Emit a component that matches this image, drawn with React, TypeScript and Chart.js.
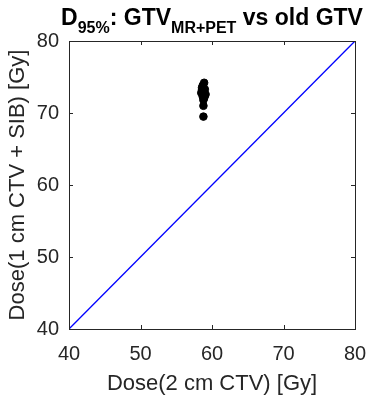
import React, { useEffect, useRef } from "react";
import { Chart, registerables } from "chart.js";

Chart.register(...registerables);

const xValues = [58.6, 58.9, 58.7, 59.0, 58.5, 58.8, 59.1, 58.7, 58.9, 58.8, 58.7, 58.8, 59.0, 58.6, 58.8];
const yValues = [73.5, 74.2, 73.8, 73.3, 72.8, 73.0, 72.6, 72.3, 72.1, 71.8, 72.6, 71.0, 72.4, 73.2, 69.5];
const diagonal = [40, 80];
const tickValues = [40, 50, 60, 70, 80];
const titleParts = [
  { text: "D", sub: false },
  { text: "95%", sub: true },
  { text: ": GTV", sub: false },
  { text: "MR+PET", sub: true },
  { text: " vs old GTV", sub: false },
];
const xTitle = "Dose(2 cm CTV) [Gy]";
const yTitle = "Dose(1 cm CTV + SIB) [Gy]";

const FONT = "Liberation Sans, Arial, Helvetica, sans-serif";
const AXIS_COLOR = "#262626";

const boxPlugin = {
  id: "matlabBox",
  afterDatasetsDraw(chart: any) {
    const { ctx, chartArea: a, scales } = chart;
    ctx.save();
    ctx.strokeStyle = AXIS_COLOR;
    ctx.lineWidth = 1;
    ctx.strokeRect(Math.round(a.left) + 0.5, Math.round(a.top) + 0.5, Math.round(a.right - a.left), Math.round(a.bottom - a.top));
    const tl = 4;
    ctx.beginPath();
    for (const v of tickValues) {
      const px = Math.round(scales.x.getPixelForValue(v)) + 0.5;
      ctx.moveTo(px, a.bottom);
      ctx.lineTo(px, a.bottom - tl);
      ctx.moveTo(px, a.top);
      ctx.lineTo(px, a.top + tl);
      const py = Math.round(scales.y.getPixelForValue(v)) + 0.5;
      ctx.moveTo(a.left, py);
      ctx.lineTo(a.left + tl, py);
      ctx.moveTo(a.right, py);
      ctx.lineTo(a.right - tl, py);
    }
    ctx.stroke();

    // title with subscripts
    const mainFont = `bold 23px ${FONT}`;
    const subFont = `bold 16px ${FONT}`;
    let total = 0;
    for (const p of titleParts) {
      ctx.font = p.sub ? subFont : mainFont;
      total += ctx.measureText(p.text).width;
    }
    let x = (a.left + a.right) / 2 - total / 2;
    const base = 25;
    ctx.fillStyle = "#000";
    ctx.textBaseline = "alphabetic";
    ctx.textAlign = "left";
    for (const p of titleParts) {
      ctx.font = p.sub ? subFont : mainFont;
      ctx.fillText(p.text, x, p.sub ? base + 8 : base);
      x += ctx.measureText(p.text).width;
    }
    ctx.restore();
  },
};

export default function App() {
  const ref = useRef<HTMLCanvasElement>(null);
  useEffect(() => {
    document.body.style.margin = "0";
    const points = xValues.map((x, i) => ({ x, y: yValues[i] }));
    const chart = new Chart(ref.current!, {
      type: "scatter",
      data: {
        datasets: [
          {
            type: "line",
            data: diagonal.map((v) => ({ x: v, y: v })),
            borderColor: "#0000ff",
            borderWidth: 1.3,
            pointRadius: 0,
            fill: false,
          } as any,
          {
            data: points,
            backgroundColor: "#000",
            borderColor: "#000",
            pointRadius: 3.8,
            pointHoverRadius: 3.8,
          },
        ],
      },
      options: {
        animation: false,
        responsive: false,
        events: [],
        layout: { padding: { top: 41, right: 12, left: 0, bottom: 0 } },
        plugins: { legend: { display: false }, tooltip: { enabled: false }, title: { display: false } },
        scales: {
          x: {
            type: "linear",
            min: 40,
            max: 80,
            afterBuildTicks: (s: any) => { s.ticks = tickValues.map((v) => ({ value: v })); },
            afterFit: (s: any) => { s.height = 76; s.paddingLeft = 0; s.paddingRight = 0; },
            grid: { display: false, drawTicks: false },
            border: { display: false },
            ticks: { color: AXIS_COLOR, font: { family: FONT, size: 20 }, padding: 13, maxRotation: 0 },
            title: { display: true, text: xTitle, color: AXIS_COLOR, font: { family: FONT, size: 22 }, padding: { bottom: 8, top: 0 } },
          },
          y: {
            type: "linear",
            min: 40,
            max: 80,
            afterBuildTicks: (s: any) => { s.ticks = tickValues.map((v) => ({ value: v })); },
            afterFit: (s: any) => { s.width = 69; s.paddingTop = 0; s.paddingBottom = 0; },
            grid: { display: false, drawTicks: false },
            border: { display: false },
            ticks: { color: AXIS_COLOR, font: { family: FONT, size: 20 }, padding: 10 },
            title: { display: true, text: yTitle, color: AXIS_COLOR, font: { family: FONT, size: 22 }, padding: { top: 5, bottom: 0 } },
          },
        },
      },
      plugins: [boxPlugin],
    });
    return () => chart.destroy();
  }, []);
  return (
    <div style={{ position: "fixed", left: 0, top: 0, width: 367, height: 405 }}>
      <canvas ref={ref} width={367} height={405} style={{ width: 367, height: 405 }} />
    </div>
  );
}
